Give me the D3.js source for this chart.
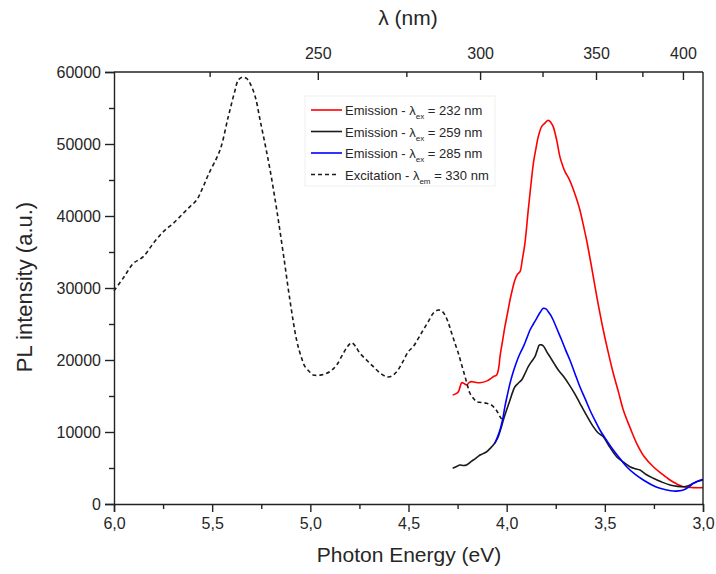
<!DOCTYPE html>
<html>
<head>
<meta charset="utf-8">
<script src="https://cdn.jsdelivr.net/npm/d3@7"></script>
<style>
  body { margin: 0; background: #fff; }
  text { font-family: "Liberation Sans", Arial, sans-serif; fill: #262626; }
</style>
</head>
<body>
<div id="chart"></div>
<script>
const width = 716;
const height = 574;
const margin = { top: 72, right: 13, bottom: 70, left: 114 };

// excitation spectrum (lambda_em = 330 nm), [energy eV, intensity]
const excitation = [
  [6.0, 29600], [5.95, 31500], [5.902, 33400], [5.851, 34350], [5.80, 36200], [5.749, 37820],
  [5.698, 38990], [5.65, 40300], [5.613, 41300], [5.579, 42220], [5.55, 43800], [5.52, 45700],
  [5.46, 49170], [5.418, 53800], [5.385, 57300], [5.367, 58890], [5.345, 59300], [5.325, 59100],
  [5.307, 58430], [5.28, 56500], [5.256, 53330], [5.23, 49900], [5.205, 46390], [5.171, 40840],
  [5.138, 34820], [5.104, 28330], [5.07, 22780], [5.045, 20300], [5.027, 19070], [5.0, 18250],
  [4.985, 17920], [4.95, 17900], [4.917, 18150], [4.89, 18600], [4.866, 19300], [4.832, 20930],
  [4.81, 21900], [4.789, 22400], [4.77, 21900], [4.747, 20930], [4.71, 19900], [4.679, 19070],
  [4.645, 18200], [4.611, 17680], [4.59, 17700], [4.56, 18380], [4.53, 19700], [4.501, 21160],
  [4.476, 21850], [4.45, 23000], [4.425, 24170], [4.40, 25300], [4.374, 26490], [4.348, 26950],
  [4.33, 26800], [4.314, 26250], [4.295, 25000], [4.28, 23710], [4.263, 22300], [4.246, 20930],
  [4.229, 19300], [4.212, 17680], [4.20, 16500], [4.187, 15380], [4.17, 14700], [4.153, 14210],
  [4.13, 14100], [4.102, 13990], [4.08, 13800], [4.06, 13290], [4.045, 12700], [4.034, 12130],
  [4.017, 11430]
];

// emission, lambda_ex = 232 nm
const emission232 = [
  [4.275, 15140], [4.26, 15300], [4.246, 15600], [4.237, 16300], [4.229, 16850], [4.215, 16700],
  [4.204, 16530], [4.19, 16900], [4.178, 16990], [4.16, 16900], [4.136, 16850], [4.10, 17100],
  [4.068, 17680], [4.051, 17920], [4.04, 19000], [4.034, 20460], [4.02, 22800], [4.009, 24630],
  [3.995, 26600], [3.983, 28330], [3.97, 29900], [3.958, 31110], [3.945, 31900], [3.932, 32270],
  [3.92, 34000], [3.907, 36210], [3.89, 40840], [3.877, 44200], [3.864, 47320], [3.85, 49500],
  [3.839, 51020], [3.822, 52410], [3.805, 52900], [3.788, 53300], [3.775, 53000], [3.763, 52410],
  [3.745, 50500], [3.729, 48240], [3.715, 47000], [3.703, 46160], [3.685, 45300], [3.669, 44310],
  [3.648, 42700], [3.627, 40840], [3.61, 38800], [3.593, 36670], [3.57, 33300], [3.55, 30180],
  [3.53, 27200], [3.508, 24170], [3.483, 21100], [3.457, 18150], [3.43, 15500], [3.406, 13060],
  [3.37, 10500], [3.338, 8430], [3.30, 6600], [3.253, 5180], [3.21, 4200], [3.168, 3330],
  [3.135, 2800], [3.10, 2400], [3.05, 2280], [3.0, 2270]
];

// emission, lambda_ex = 259 nm
const emission259 = [
  [4.275, 4960], [4.255, 5200], [4.238, 5420], [4.22, 5350], [4.204, 5420], [4.185, 5800],
  [4.17, 6110], [4.15, 6500], [4.136, 6810], [4.12, 7000], [4.102, 7260], [4.085, 7700],
  [4.068, 8190], [4.055, 8700], [4.043, 9350], [4.03, 10400], [4.017, 11670], [4.0, 13100],
  [3.983, 14440], [3.97, 15500], [3.958, 16290], [3.94, 16800], [3.924, 17220], [3.907, 18100],
  [3.89, 19070], [3.873, 19800], [3.856, 20460], [3.845, 21300], [3.833, 22090], [3.823, 22100],
  [3.813, 21950], [3.797, 21200], [3.78, 20460], [3.758, 19500], [3.737, 18610], [3.71, 17700],
  [3.686, 16760], [3.655, 15400], [3.627, 13990], [3.593, 12300], [3.559, 10740], [3.535, 9900],
  [3.508, 9350], [3.475, 7900], [3.44, 6570], [3.405, 5800], [3.372, 5180], [3.345, 4900],
  [3.321, 4720], [3.29, 4100], [3.253, 3570], [3.21, 3050], [3.168, 2640], [3.13, 2450],
  [3.10, 2400], [3.075, 2550], [3.049, 2870], [3.025, 3150], [3.0, 3330]
];

// emission, lambda_ex = 285 nm
const emission285 = [
  [4.06, 8430], [4.047, 9300], [4.034, 10280], [4.02, 11800], [4.009, 13520], [3.996, 15200],
  [3.983, 16760], [3.966, 18400], [3.949, 19770], [3.932, 20900], [3.915, 21850], [3.898, 23000],
  [3.881, 24170], [3.864, 25000], [3.847, 25790], [3.83, 26600], [3.813, 27180], [3.80, 27100],
  [3.788, 26710], [3.775, 26200], [3.763, 25560], [3.742, 24200], [3.72, 22780], [3.70, 21400],
  [3.678, 20000], [3.652, 18100], [3.627, 16290], [3.60, 14600], [3.576, 13060], [3.55, 11600],
  [3.525, 10280], [3.49, 8800], [3.457, 7500], [3.42, 6200], [3.389, 5180], [3.345, 4100],
  [3.304, 3330], [3.26, 2650], [3.219, 2180], [3.185, 1950], [3.151, 1800], [3.125, 1820],
  [3.10, 1940], [3.075, 2300], [3.049, 2870], [3.025, 3200], [3.0, 3430]
];

const energyTicks = [6.0, 5.5, 5.0, 4.5, 4.0, 3.5, 3.0];
const energyMinor = [5.75, 5.25, 4.75, 4.25, 3.75, 3.25];
const intensityTicks = [0, 10000, 20000, 30000, 40000, 50000, 60000];
const intensityMinor = [5000, 15000, 25000, 35000, 45000, 55000];
const lambdaTicks = [250, 300, 350, 400];
const lambdaMinor = [225, 275, 325, 375];

const seriesNames = [
  { name: "Emission - ", sym: "ex", val: " = 232 nm", color: "#ff0000", dash: null },
  { name: "Emission - ", sym: "ex", val: " = 259 nm", color: "#1a1a1a", dash: null },
  { name: "Emission - ", sym: "ex", val: " = 285 nm", color: "#0000ff", dash: null },
  { name: "Excitation - ", sym: "em", val: " = 330 nm", color: "#1a1a1a", dash: "4,3" }
];

const svg = d3.select("#chart").append("svg")
  .attr("width", width)
  .attr("height", height);

const x = d3.scaleLinear()
  .domain([6, 3])
  .range([margin.left, width - margin.right]);

const y = d3.scaleLinear()
  .domain([0, 60000])
  .range([height - margin.bottom, margin.top]);

const line = d3.line()
  .x(d => x(d[0]))
  .y(d => y(d[1]))
  .curve(d3.curveCatmullRom);

// curves
const curves = [emission232, emission259, emission285, excitation];
curves.forEach((data, i) => {
  svg.append("path")
    .datum(data)
    .attr("fill", "none")
    .attr("stroke", seriesNames[i].color)
    .attr("stroke-width", 1.6)
    .attr("stroke-dasharray", seriesNames[i].dash)
    .attr("d", line);
});

// bottom axis
svg.append("g")
  .attr("transform", `translate(0,${height - margin.bottom})`)
  .call(d3.axisBottom(x).tickValues(energyTicks).tickSize(8).tickPadding(6)
    .tickFormat(d => d3.format(".1f")(d).replace(".", ",")));
svg.append("g")
  .attr("transform", `translate(0,${height - margin.bottom})`)
  .call(d3.axisBottom(x).tickValues(energyMinor).tickSize(5).tickFormat(""))
  .select(".domain").remove();

// left axis
svg.append("g")
  .attr("transform", `translate(${margin.left},0)`)
  .call(d3.axisLeft(y).tickValues(intensityTicks).tickSize(9).tickPadding(4).tickFormat(d3.format("d")));
svg.append("g")
  .attr("transform", `translate(${margin.left},0)`)
  .call(d3.axisLeft(y).tickValues(intensityMinor).tickSize(5).tickFormat(""))
  .select(".domain").remove();

svg.selectAll(".domain, .tick line")
  .attr("stroke", "#222")
  .attr("stroke-width", 1.4);
svg.selectAll(".tick text")
  .style("font-size", "16px")
  .style("fill", "#262626");

// top and right frame
svg.append("line")
  .attr("x1", margin.left).attr("x2", width - margin.right)
  .attr("y1", margin.top).attr("y2", margin.top)
  .attr("stroke", "#222").attr("stroke-width", 1.4);
svg.append("line")
  .attr("x1", width - margin.right).attr("x2", width - margin.right)
  .attr("y1", margin.top).attr("y2", height - margin.bottom)
  .attr("stroke", "#222").attr("stroke-width", 1.4);

// top wavelength axis, ticks at E = 1239.84 / lambda
const eOf = l => 1239.84 / l;
svg.selectAll(".topMajor")
  .data(lambdaTicks)
  .enter().append("line")
  .attr("x1", d => x(eOf(d))).attr("x2", d => x(eOf(d)))
  .attr("y1", margin.top).attr("y2", margin.top + 8)
  .attr("stroke", "#222").attr("stroke-width", 1.4);
svg.selectAll(".topMinor")
  .data(lambdaMinor)
  .enter().append("line")
  .attr("x1", d => x(eOf(d))).attr("x2", d => x(eOf(d)))
  .attr("y1", margin.top).attr("y2", margin.top + 5)
  .attr("stroke", "#222").attr("stroke-width", 1.4);
svg.selectAll(".topLabel")
  .data(lambdaTicks)
  .enter().append("text")
  .attr("x", d => x(eOf(d)))
  .attr("y", margin.top - 13)
  .attr("text-anchor", "middle")
  .style("font-size", "16px")
  .text(d => d);

// axis titles
svg.append("text")
  .attr("x", 409)
  .attr("y", 562)
  .attr("text-anchor", "middle")
  .style("font-size", "21px")
  .text("Photon Energy (eV)");

svg.append("text")
  .attr("transform", "rotate(-90)")
  .attr("x", -287)
  .attr("y", 32)
  .attr("text-anchor", "middle")
  .style("font-size", "22px")
  .text("PL intensity (a.u.)");

svg.append("text")
  .attr("x", 408)
  .attr("y", 25)
  .attr("text-anchor", "middle")
  .style("font-size", "21px")
  .text("λ (nm)");

// legend
const legend = svg.append("g").attr("transform", "translate(305,96)");
legend.append("rect")
  .attr("width", 190).attr("height", 90)
  .attr("fill", "#fff")
  .attr("stroke", "#f0f0f0");

seriesNames.forEach((s, i) => {
  const ly = 14 + i * 21.5;
  legend.append("line")
    .attr("x1", 6).attr("x2", i === 3 ? 31 : 37)
    .attr("y1", ly).attr("y2", ly)
    .attr("stroke", s.color)
    .attr("stroke-width", 1.6)
    .attr("stroke-dasharray", s.dash);
  const t = legend.append("text")
    .attr("x", 40)
    .attr("y", ly + 5)
    .style("font-size", "13px");
  t.append("tspan").text(s.name + "λ");
  t.append("tspan").attr("dy", 4).style("font-size", "8px").text(s.sym);
  t.append("tspan").attr("dy", -4).text(s.val);
});
</script>
</body>
</html>
